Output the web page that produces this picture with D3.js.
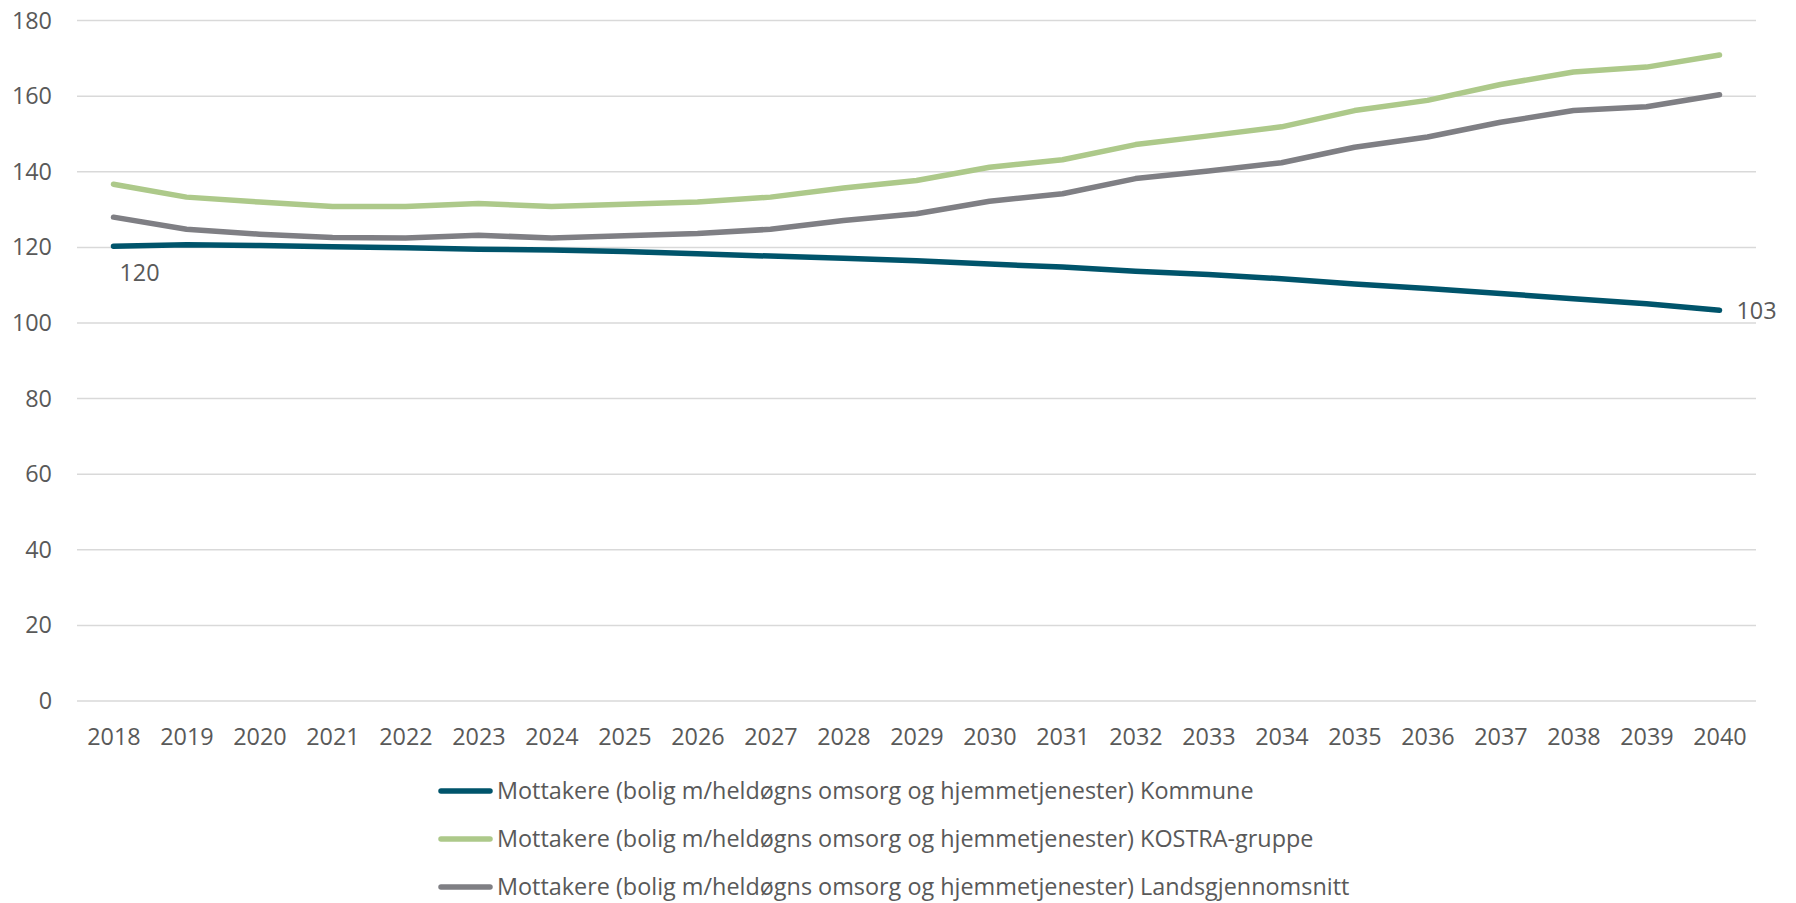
<!DOCTYPE html>
<html>
<head>
<meta charset="utf-8">
<script src="https://cdn.jsdelivr.net/npm/d3@7"></script>
<style>
  body { margin: 0; background: #fff; }
  text { font-family: "Open Sans", sans-serif; fill: #595959; }
</style>
</head>
<body>
<svg></svg>
<script>
const years = [2018, 2019, 2020, 2021, 2022, 2023, 2024, 2025, 2026, 2027, 2028, 2029,
  2030, 2031, 2032, 2033, 2034, 2035, 2036, 2037, 2038, 2039, 2040];

const kommune = [120.3, 120.7, 120.5, 120.2, 119.9, 119.5, 119.3, 118.9, 118.3, 117.7, 117.1, 116.5,
  115.6, 114.8, 113.7, 112.8, 111.7, 110.3, 109.1, 107.8, 106.4, 105.1, 103.4];

const kostra = [136.7, 133.3, 132.0, 130.8, 130.8, 131.6, 130.8, 131.4, 132.0, 133.3, 135.7, 137.7,
  141.2, 143.2, 147.2, 149.5, 151.9, 156.2, 158.9, 163.1, 166.4, 167.7, 170.9];

const lands = [128.0, 124.8, 123.5, 122.6, 122.5, 123.2, 122.5, 123.1, 123.7, 124.8, 127.1, 128.9,
  132.2, 134.2, 138.2, 140.2, 142.4, 146.5, 149.2, 153.1, 156.2, 157.2, 160.4];

const seriesNames = [
  "Mottakere (bolig m/heldøgns omsorg og hjemmetjenester) Kommune",
  "Mottakere (bolig m/heldøgns omsorg og hjemmetjenester) KOSTRA-gruppe",
  "Mottakere (bolig m/heldøgns omsorg og hjemmetjenester) Landsgjennomsnitt"
];
const seriesColors = ["#00546b", "#adc98a", "#7f7f84"];
const yTicks = [0, 20, 40, 60, 80, 100, 120, 140, 160, 180];

const W = 1796, H = 903;
const margin = { top: 20.6, right: 40, bottom: 202, left: 77 };
const fontSize = "23.4px";

const svg = d3.select("svg").attr("width", W).attr("height", H);

const x = d3.scalePoint()
  .domain(years)
  .range([margin.left, W - margin.right])
  .padding(0.5);

const y = d3.scaleLinear()
  .domain([0, 180])
  .range([H - margin.bottom, margin.top]);

// gridlines
svg.append("g")
  .selectAll("line")
  .data(yTicks)
  .enter()
  .append("line")
  .attr("x1", margin.left)
  .attr("x2", W - margin.right)
  .attr("y1", d => y(d))
  .attr("y2", d => y(d))
  .attr("stroke", "#d9d9d9")
  .attr("stroke-width", 1.5);

// y axis labels
const yAxis = d3.axisLeft(y).tickValues(yTicks).tickSize(0).tickPadding(0);
svg.append("g")
  .attr("class", "y axis")
  .attr("transform", "translate(52,0)")
  .call(yAxis)
  .call(g => g.select(".domain").remove());

// x axis labels
const xAxis = d3.axisBottom(x).tickSize(0).tickPadding(0);
svg.append("g")
  .attr("class", "x axis")
  .attr("transform", "translate(0," + 728 + ")")
  .call(xAxis)
  .call(g => g.select(".domain").remove());

svg.selectAll(".axis text")
  .style("font-size", fontSize)
  .style("font-family", "'Open Sans', sans-serif")
  .attr("fill", "#595959");

const line = d3.line()
  .x((d, i) => x(years[i]))
  .y(d => y(d));

const allSeries = [kommune, kostra, lands];

// draw grey first, then green, then teal on top
[2, 1, 0].forEach(function (k) {
  svg.append("path")
    .datum(allSeries[k])
    .attr("fill", "none")
    .attr("stroke", seriesColors[k])
    .attr("stroke-width", 5.5)
    .attr("stroke-linecap", "round")
    .attr("stroke-linejoin", "round")
    .attr("d", line);
});

// data labels on first and last Kommune point
svg.append("text")
  .attr("x", x(years[0]) + 6)
  .attr("y", y(kommune[0]) + 35)
  .style("font-size", fontSize)
  .text(Math.round(kommune[0]));

svg.append("text")
  .attr("x", x(years[years.length - 1]) + 17)
  .attr("y", y(kommune[kommune.length - 1]) + 9)
  .style("font-size", fontSize)
  .text(Math.round(kommune[kommune.length - 1]));

// legend
const legend = svg.append("g")
  .attr("class", "legend")
  .attr("transform", "translate(439,791)");

const legendItem = legend.selectAll(".legend-item")
  .data(seriesNames)
  .enter()
  .append("g")
  .attr("class", "legend-item")
  .attr("transform", (d, i) => "translate(0," + i * 48 + ")");

legendItem.append("line")
  .attr("x1", 2)
  .attr("x2", 51)
  .attr("y1", 0)
  .attr("y2", 0)
  .attr("stroke", (d, i) => seriesColors[i])
  .attr("stroke-width", 5.5)
  .attr("stroke-linecap", "round");

legendItem.append("text")
  .attr("x", 58)
  .attr("y", 0)
  .attr("dy", "0.35em")
  .style("font-size", fontSize)
  .text(d => d);
</script>
</body>
</html>
